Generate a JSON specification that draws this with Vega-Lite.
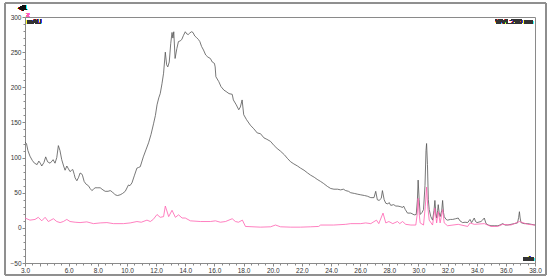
{
  "$schema": "https://vega.github.io/schema/vega-lite/v6.json",
  "width": 510,
  "height": 246,
  "autosize": "none",
  "padding": {"left": 25, "top": 17, "right": 15, "bottom": 15},
  "background": "white",
  "config": {
    "view": {"stroke": "#8a8a8a", "strokeWidth": 1},
    "font": "Liberation Sans",
    "axis": {"labelFont": "Liberation Sans", "labelFontSize": 6.5, "labelColor": "#333", "domainColor": "#8a8a8a", "tickColor": "#8a8a8a", "grid": false, "labelOverlap": false, "labelFlush": false, "title": null}
  },
  "resolve": {"axis": {"x": "independent", "y": "independent"}},
  "data": {
    "values": [
      {"t": 3.00, "v": 122, "s": "1"}, {"t": 3.10, "v": 120, "s": "1"}, {"t": 3.20, "v": 110, "s": "1"}, {"t": 3.34, "v": 102, "s": "1"}, {"t": 3.50, "v": 96, "s": "1"}, {"t": 3.65, "v": 92, "s": "1"}, {"t": 3.83, "v": 90, "s": "1"}, {"t": 3.95, "v": 95, "s": "1"}, {"t": 4.05, "v": 92, "s": "1"}, {"t": 4.15, "v": 88, "s": "1"}, {"t": 4.30, "v": 93, "s": "1"}, {"t": 4.42, "v": 101, "s": "1"}, {"t": 4.55, "v": 94, "s": "1"}, {"t": 4.72, "v": 92, "s": "1"}, {"t": 4.85, "v": 95, "s": "1"}, {"t": 4.93, "v": 97, "s": "1"}, {"t": 5.06, "v": 92, "s": "1"}, {"t": 5.18, "v": 100, "s": "1"}, {"t": 5.29, "v": 117, "s": "1"}, {"t": 5.40, "v": 110, "s": "1"}, {"t": 5.52, "v": 97, "s": "1"}, {"t": 5.65, "v": 88, "s": "1"}, {"t": 5.75, "v": 82, "s": "1"}, {"t": 5.87, "v": 88, "s": "1"}, {"t": 5.98, "v": 84, "s": "1"}, {"t": 6.09, "v": 80, "s": "1"}, {"t": 6.20, "v": 82, "s": "1"}, {"t": 6.28, "v": 83, "s": "1"}, {"t": 6.38, "v": 76, "s": "1"}, {"t": 6.44, "v": 71, "s": "1"}, {"t": 6.56, "v": 67, "s": "1"}, {"t": 6.68, "v": 72, "s": "1"}, {"t": 6.78, "v": 78, "s": "1"}, {"t": 6.88, "v": 77, "s": "1"}, {"t": 6.94, "v": 75, "s": "1"}, {"t": 7.06, "v": 66, "s": "1"}, {"t": 7.20, "v": 62, "s": "1"}, {"t": 7.35, "v": 60, "s": "1"}, {"t": 7.47, "v": 56, "s": "1"}, {"t": 7.59, "v": 53, "s": "1"}, {"t": 7.70, "v": 55, "s": "1"}, {"t": 7.81, "v": 57, "s": "1"}, {"t": 7.95, "v": 57, "s": "1"}, {"t": 8.16, "v": 57, "s": "1"}, {"t": 8.35, "v": 54, "s": "1"}, {"t": 8.50, "v": 52, "s": "1"}, {"t": 8.70, "v": 52, "s": "1"}, {"t": 8.85, "v": 53, "s": "1"}, {"t": 9.00, "v": 51, "s": "1"}, {"t": 9.19, "v": 47, "s": "1"}, {"t": 9.35, "v": 46, "s": "1"}, {"t": 9.53, "v": 47, "s": "1"}, {"t": 9.70, "v": 49, "s": "1"}, {"t": 9.88, "v": 52, "s": "1"}, {"t": 10.10, "v": 61, "s": "1"}, {"t": 10.20, "v": 60, "s": "1"}, {"t": 10.34, "v": 64, "s": "1"}, {"t": 10.50, "v": 74, "s": "1"}, {"t": 10.68, "v": 85, "s": "1"}, {"t": 10.80, "v": 86, "s": "1"}, {"t": 10.91, "v": 87, "s": "1"}, {"t": 11.12, "v": 101, "s": "1"}, {"t": 11.30, "v": 111, "s": "1"}, {"t": 11.48, "v": 121, "s": "1"}, {"t": 11.65, "v": 133, "s": "1"}, {"t": 11.82, "v": 148, "s": "1"}, {"t": 11.95, "v": 160, "s": "1"}, {"t": 12.06, "v": 175, "s": "1"}, {"t": 12.18, "v": 185, "s": "1"}, {"t": 12.28, "v": 191, "s": "1"}, {"t": 12.40, "v": 205, "s": "1"}, {"t": 12.51, "v": 220, "s": "1"}, {"t": 12.63, "v": 250, "s": "1"}, {"t": 12.72, "v": 232, "s": "1"}, {"t": 12.80, "v": 229, "s": "1"}, {"t": 12.90, "v": 236, "s": "1"}, {"t": 13.00, "v": 262, "s": "1"}, {"t": 13.09, "v": 278, "s": "1"}, {"t": 13.15, "v": 270, "s": "1"}, {"t": 13.21, "v": 279, "s": "1"}, {"t": 13.30, "v": 241, "s": "1"}, {"t": 13.42, "v": 255, "s": "1"}, {"t": 13.53, "v": 265, "s": "1"}, {"t": 13.65, "v": 266, "s": "1"}, {"t": 13.76, "v": 268, "s": "1"}, {"t": 13.88, "v": 274, "s": "1"}, {"t": 14.00, "v": 279, "s": "1"}, {"t": 14.10, "v": 276, "s": "1"}, {"t": 14.20, "v": 275, "s": "1"}, {"t": 14.30, "v": 277, "s": "1"}, {"t": 14.42, "v": 279, "s": "1"}, {"t": 14.53, "v": 278, "s": "1"}, {"t": 14.65, "v": 273, "s": "1"}, {"t": 14.76, "v": 271, "s": "1"}, {"t": 14.90, "v": 268, "s": "1"}, {"t": 15.00, "v": 265, "s": "1"}, {"t": 15.12, "v": 258, "s": "1"}, {"t": 15.25, "v": 253, "s": "1"}, {"t": 15.40, "v": 246, "s": "1"}, {"t": 15.55, "v": 243, "s": "1"}, {"t": 15.72, "v": 241, "s": "1"}, {"t": 15.85, "v": 236, "s": "1"}, {"t": 16.00, "v": 234, "s": "1"}, {"t": 16.05, "v": 229, "s": "1"}, {"t": 16.10, "v": 215, "s": "1"}, {"t": 16.30, "v": 208, "s": "1"}, {"t": 16.45, "v": 201, "s": "1"}, {"t": 16.65, "v": 196, "s": "1"}, {"t": 16.80, "v": 194, "s": "1"}, {"t": 17.00, "v": 191, "s": "1"}, {"t": 17.22, "v": 190, "s": "1"}, {"t": 17.30, "v": 182, "s": "1"}, {"t": 17.50, "v": 175, "s": "1"}, {"t": 17.67, "v": 168, "s": "1"}, {"t": 17.78, "v": 172, "s": "1"}, {"t": 17.90, "v": 182, "s": "1"}, {"t": 18.01, "v": 161, "s": "1"}, {"t": 18.20, "v": 154, "s": "1"}, {"t": 18.47, "v": 146, "s": "1"}, {"t": 18.70, "v": 141, "s": "1"}, {"t": 18.94, "v": 135, "s": "1"}, {"t": 19.16, "v": 134, "s": "1"}, {"t": 19.40, "v": 128, "s": "1"}, {"t": 19.60, "v": 126, "s": "1"}, {"t": 19.85, "v": 123, "s": "1"}, {"t": 20.10, "v": 117, "s": "1"}, {"t": 20.30, "v": 113, "s": "1"}, {"t": 20.54, "v": 109, "s": "1"}, {"t": 20.80, "v": 104, "s": "1"}, {"t": 21.00, "v": 99, "s": "1"}, {"t": 21.23, "v": 94, "s": "1"}, {"t": 21.45, "v": 91, "s": "1"}, {"t": 21.70, "v": 88, "s": "1"}, {"t": 21.91, "v": 85, "s": "1"}, {"t": 22.15, "v": 82, "s": "1"}, {"t": 22.40, "v": 78, "s": "1"}, {"t": 22.60, "v": 75, "s": "1"}, {"t": 22.85, "v": 72, "s": "1"}, {"t": 23.05, "v": 69, "s": "1"}, {"t": 23.29, "v": 66, "s": "1"}, {"t": 23.50, "v": 63, "s": "1"}, {"t": 23.75, "v": 59, "s": "1"}, {"t": 23.98, "v": 56, "s": "1"}, {"t": 24.20, "v": 55, "s": "1"}, {"t": 24.45, "v": 55, "s": "1"}, {"t": 24.66, "v": 54, "s": "1"}, {"t": 24.85, "v": 55, "s": "1"}, {"t": 25.01, "v": 53, "s": "1"}, {"t": 25.20, "v": 52, "s": "1"}, {"t": 25.35, "v": 50, "s": "1"}, {"t": 25.60, "v": 49, "s": "1"}, {"t": 25.80, "v": 48, "s": "1"}, {"t": 26.04, "v": 47, "s": "1"}, {"t": 26.30, "v": 46, "s": "1"}, {"t": 26.50, "v": 45, "s": "1"}, {"t": 26.73, "v": 43, "s": "1"}, {"t": 26.95, "v": 43, "s": "1"}, {"t": 27.07, "v": 52, "s": "1"}, {"t": 27.18, "v": 40, "s": "1"}, {"t": 27.30, "v": 39, "s": "1"}, {"t": 27.45, "v": 42, "s": "1"}, {"t": 27.53, "v": 53, "s": "1"}, {"t": 27.65, "v": 40, "s": "1"}, {"t": 27.76, "v": 35, "s": "1"}, {"t": 27.90, "v": 34, "s": "1"}, {"t": 27.99, "v": 36, "s": "1"}, {"t": 28.10, "v": 32, "s": "1"}, {"t": 28.30, "v": 33, "s": "1"}, {"t": 28.45, "v": 31, "s": "1"}, {"t": 28.60, "v": 31, "s": "1"}, {"t": 28.79, "v": 30, "s": "1"}, {"t": 28.91, "v": 29, "s": "1"}, {"t": 28.98, "v": 31, "s": "1"}, {"t": 29.10, "v": 26, "s": "1"}, {"t": 29.25, "v": 21, "s": "1"}, {"t": 29.48, "v": 21, "s": "1"}, {"t": 29.71, "v": 18.5, "s": "1"}, {"t": 29.85, "v": 19, "s": "1"}, {"t": 29.93, "v": 40, "s": "1"}, {"t": 29.98, "v": 68, "s": "1"}, {"t": 30.05, "v": 40, "s": "1"}, {"t": 30.12, "v": 19, "s": "1"}, {"t": 30.25, "v": 22, "s": "1"}, {"t": 30.35, "v": 26, "s": "1"}, {"t": 30.45, "v": 60, "s": "1"}, {"t": 30.52, "v": 110, "s": "1"}, {"t": 30.56, "v": 120, "s": "1"}, {"t": 30.62, "v": 90, "s": "1"}, {"t": 30.68, "v": 40, "s": "1"}, {"t": 30.74, "v": 26, "s": "1"}, {"t": 30.85, "v": 16, "s": "1"}, {"t": 30.97, "v": 11, "s": "1"}, {"t": 31.07, "v": 25, "s": "1"}, {"t": 31.13, "v": 39, "s": "1"}, {"t": 31.20, "v": 20, "s": "1"}, {"t": 31.25, "v": 14, "s": "1"}, {"t": 31.32, "v": 25, "s": "1"}, {"t": 31.36, "v": 33, "s": "1"}, {"t": 31.42, "v": 22, "s": "1"}, {"t": 31.49, "v": 16, "s": "1"}, {"t": 31.60, "v": 25, "s": "1"}, {"t": 31.66, "v": 39, "s": "1"}, {"t": 31.72, "v": 22, "s": "1"}, {"t": 31.77, "v": 16, "s": "1"}, {"t": 31.90, "v": 12, "s": "1"}, {"t": 32.00, "v": 11, "s": "1"}, {"t": 32.20, "v": 12, "s": "1"}, {"t": 32.35, "v": 12, "s": "1"}, {"t": 32.55, "v": 13, "s": "1"}, {"t": 32.73, "v": 14, "s": "1"}, {"t": 32.85, "v": 10, "s": "1"}, {"t": 33.03, "v": 7.5, "s": "1"}, {"t": 33.20, "v": 8, "s": "1"}, {"t": 33.38, "v": 7.5, "s": "1"}, {"t": 33.54, "v": 12, "s": "1"}, {"t": 33.65, "v": 7.5, "s": "1"}, {"t": 33.83, "v": 14, "s": "1"}, {"t": 33.92, "v": 9, "s": "1"}, {"t": 34.02, "v": 7.5, "s": "1"}, {"t": 34.29, "v": 9, "s": "1"}, {"t": 34.40, "v": 11, "s": "1"}, {"t": 34.52, "v": 14, "s": "1"}, {"t": 34.64, "v": 6, "s": "1"}, {"t": 34.80, "v": 4, "s": "1"}, {"t": 34.98, "v": 3, "s": "1"}, {"t": 35.20, "v": 3, "s": "1"}, {"t": 35.44, "v": 3, "s": "1"}, {"t": 35.60, "v": 4, "s": "1"}, {"t": 35.78, "v": 6, "s": "1"}, {"t": 35.95, "v": 4, "s": "1"}, {"t": 36.13, "v": 4, "s": "1"}, {"t": 36.35, "v": 5, "s": "1"}, {"t": 36.58, "v": 6, "s": "1"}, {"t": 36.80, "v": 7, "s": "1"}, {"t": 36.88, "v": 15, "s": "1"}, {"t": 36.93, "v": 23, "s": "1"}, {"t": 36.98, "v": 14, "s": "1"}, {"t": 37.04, "v": 7.5, "s": "1"}, {"t": 37.25, "v": 6, "s": "1"}, {"t": 37.50, "v": 6, "s": "1"}, {"t": 37.75, "v": 5, "s": "1"}, {"t": 38.00, "v": 4, "s": "1"},

      {"t": 3.00, "v": 14, "s": "2"}, {"t": 3.34, "v": 11, "s": "2"}, {"t": 3.69, "v": 12, "s": "2"}, {"t": 3.91, "v": 15, "s": "2"}, {"t": 4.15, "v": 10, "s": "2"}, {"t": 4.38, "v": 15, "s": "2"}, {"t": 4.60, "v": 9, "s": "2"}, {"t": 4.95, "v": 13, "s": "2"}, {"t": 5.18, "v": 9, "s": "2"}, {"t": 5.41, "v": 7.5, "s": "2"}, {"t": 5.63, "v": 9, "s": "2"}, {"t": 5.87, "v": 12, "s": "2"}, {"t": 6.09, "v": 9, "s": "2"}, {"t": 6.44, "v": 8, "s": "2"}, {"t": 6.78, "v": 7.5, "s": "2"}, {"t": 7.24, "v": 8.5, "s": "2"}, {"t": 7.70, "v": 6, "s": "2"}, {"t": 8.16, "v": 7, "s": "2"}, {"t": 8.62, "v": 7.5, "s": "2"}, {"t": 9.07, "v": 6, "s": "2"}, {"t": 9.76, "v": 6, "s": "2"}, {"t": 10.22, "v": 7, "s": "2"}, {"t": 10.68, "v": 9, "s": "2"}, {"t": 10.98, "v": 8, "s": "2"}, {"t": 11.37, "v": 11, "s": "2"}, {"t": 11.60, "v": 9, "s": "2"}, {"t": 11.80, "v": 12, "s": "2"}, {"t": 12.06, "v": 19, "s": "2"}, {"t": 12.28, "v": 15, "s": "2"}, {"t": 12.51, "v": 16, "s": "2"}, {"t": 12.63, "v": 31, "s": "2"}, {"t": 12.86, "v": 16, "s": "2"}, {"t": 13.09, "v": 25, "s": "2"}, {"t": 13.32, "v": 15, "s": "2"}, {"t": 13.54, "v": 18.5, "s": "2"}, {"t": 13.78, "v": 14, "s": "2"}, {"t": 14.00, "v": 14, "s": "2"}, {"t": 14.35, "v": 10, "s": "2"}, {"t": 15.04, "v": 9, "s": "2"}, {"t": 15.72, "v": 9, "s": "2"}, {"t": 16.07, "v": 10, "s": "2"}, {"t": 16.41, "v": 8, "s": "2"}, {"t": 16.76, "v": 9, "s": "2"}, {"t": 17.22, "v": 13, "s": "2"}, {"t": 17.44, "v": 9, "s": "2"}, {"t": 17.65, "v": 8, "s": "2"}, {"t": 17.92, "v": 11, "s": "2"}, {"t": 18.13, "v": 2, "s": "2"}, {"t": 19.16, "v": 1, "s": "2"}, {"t": 19.85, "v": 1.5, "s": "2"}, {"t": 20.19, "v": 4, "s": "2"}, {"t": 20.54, "v": 1.5, "s": "2"}, {"t": 21.23, "v": 1, "s": "2"}, {"t": 21.91, "v": 1, "s": "2"}, {"t": 22.60, "v": 1.5, "s": "2"}, {"t": 23.15, "v": 2, "s": "2"}, {"t": 23.29, "v": 4, "s": "2"}, {"t": 24.18, "v": 4, "s": "2"}, {"t": 25.01, "v": 5, "s": "2"}, {"t": 25.35, "v": 6, "s": "2"}, {"t": 26.04, "v": 6, "s": "2"}, {"t": 26.38, "v": 7, "s": "2"}, {"t": 26.73, "v": 6, "s": "2"}, {"t": 27.12, "v": 11, "s": "2"}, {"t": 27.28, "v": 6, "s": "2"}, {"t": 27.57, "v": 21, "s": "2"}, {"t": 27.76, "v": 7, "s": "2"}, {"t": 27.97, "v": 9, "s": "2"}, {"t": 28.24, "v": 6, "s": "2"}, {"t": 28.56, "v": 9, "s": "2"}, {"t": 28.72, "v": 6, "s": "2"}, {"t": 28.91, "v": 9, "s": "2"}, {"t": 29.13, "v": 5, "s": "2"}, {"t": 29.48, "v": 4, "s": "2"}, {"t": 29.82, "v": 4, "s": "2"}, {"t": 29.92, "v": 20, "s": "2"}, {"t": 29.98, "v": 42, "s": "2"}, {"t": 30.05, "v": 20, "s": "2"}, {"t": 30.12, "v": 7, "s": "2"}, {"t": 30.35, "v": 4, "s": "2"}, {"t": 30.47, "v": 30, "s": "2"}, {"t": 30.56, "v": 58, "s": "2"}, {"t": 30.64, "v": 30, "s": "2"}, {"t": 30.74, "v": 11, "s": "2"}, {"t": 30.97, "v": 4, "s": "2"}, {"t": 31.13, "v": 28, "s": "2"}, {"t": 31.25, "v": 7, "s": "2"}, {"t": 31.36, "v": 23, "s": "2"}, {"t": 31.49, "v": 7, "s": "2"}, {"t": 31.66, "v": 26, "s": "2"}, {"t": 31.77, "v": 7, "s": "2"}, {"t": 32.00, "v": 3, "s": "2"}, {"t": 32.73, "v": 5, "s": "2"}, {"t": 33.38, "v": 2, "s": "2"}, {"t": 33.54, "v": 7, "s": "2"}, {"t": 33.83, "v": 5, "s": "2"}, {"t": 34.52, "v": 6, "s": "2"}, {"t": 34.98, "v": 2, "s": "2"}, {"t": 35.44, "v": 2, "s": "2"}, {"t": 35.78, "v": 5, "s": "2"}, {"t": 36.35, "v": 4, "s": "2"}, {"t": 36.93, "v": 9, "s": "2"}, {"t": 37.50, "v": 5, "s": "2"}, {"t": 38.00, "v": 4, "s": "2"}
    ]
  },
  "layer": [
    {
      "mark": {"type": "line", "strokeWidth": 0.8, "interpolate": "linear"},
      "encoding": {
        "x": {
          "field": "t", "type": "quantitative",
          "scale": {"domain": [3, 38], "nice": false, "zero": false},
          "axis": {
            "values": [3, 3.5, 4, 4.5, 5, 5.5, 6, 6.5, 7, 7.5, 8, 8.5, 9, 9.5, 10, 10.5, 11, 11.5, 12, 12.5, 13, 13.5, 14, 14.5, 15, 15.5, 16, 16.5, 17, 17.5, 18, 18.5, 19, 19.5, 20, 20.5, 21, 21.5, 22, 22.5, 23, 23.5, 24, 24.5, 25, 25.5, 26, 26.5, 27, 27.5, 28, 28.5, 29, 29.5, 30, 30.5, 31, 31.5, 32, 32.5, 33, 33.5, 34, 34.5, 35, 35.5, 36, 36.5, 37, 37.5, 38],
            "labelExpr": "(datum.value == 3 || (datum.value % 2 == 0 && datum.value >= 6)) ? format(datum.value, '.1f') : ''",
            "tickSize": {"condition": {"test": "datum.value % 2 == 0 || datum.value == 3", "value": 3}, "value": 2},
            "labelPadding": 1
          }
        },
        "y": {
          "field": "v", "type": "quantitative",
          "scale": {"domain": [-50, 300], "nice": false, "zero": false},
          "axis": {
            "values": [-50, -40, -30, -20, -10, 0, 10, 20, 30, 40, 50, 60, 70, 80, 90, 100, 110, 120, 130, 140, 150, 160, 170, 180, 190, 200, 210, 220, 230, 240, 250, 260, 270, 280, 290, 300],
            "labelExpr": "datum.value % 50 == 0 ? format(datum.value, 'd') : ''",
            "tickSize": {"condition": {"test": "datum.value % 50 == 0", "value": 3}, "value": 2},
            "labelPadding": 1
          }
        },
        "color": {"field": "s", "type": "nominal", "scale": {"domain": ["1", "2"], "range": ["#555555", "#ff5fb0"]}, "legend": null},
        "order": {"field": "t", "type": "quantitative"}
      }
    },
    {
      "mark": {"type": "rect", "filled": false, "stroke": "#8f8f8f", "strokeWidth": 1, "clip": false},
      "encoding": {
        "x": {"datum": 1.63, "axis": null},
        "x2": {"datum": 38.75},
        "y": {"datum": 319.5, "axis": null},
        "y2": {"datum": -67}
      }
    },
    {
      "mark": {"type": "text", "text": "mAU", "align": "left", "baseline": "top", "dx": 2, "dy": 2, "fontSize": 6.5, "color": "#333"},
      "encoding": {"x": {"datum": 3, "axis": null}, "y": {"datum": 300, "axis": null}}
    },
    {
      "mark": {"type": "text", "text": "WVL:280 nm", "align": "right", "baseline": "top", "dx": -2, "dy": 2, "fontSize": 6.5, "color": "#333"},
      "encoding": {"x": {"datum": 38, "axis": null}, "y": {"datum": 300, "axis": null}}
    },
    {
      "mark": {"type": "text", "text": "min", "align": "right", "baseline": "bottom", "dx": -1, "dy": -1, "fontSize": 6.5, "color": "#333"},
      "encoding": {"x": {"datum": 38, "axis": null}, "y": {"datum": -50, "axis": null}}
    },
    {
      "mark": {"type": "text", "text": "◀1", "align": "right", "baseline": "middle", "dx": 2, "dy": -9, "fontSize": 7, "color": "#111"},
      "encoding": {"x": {"datum": 3, "axis": null}, "y": {"datum": 300, "axis": null}}
    },
    {
      "mark": {"type": "text", "text": "2", "align": "left", "baseline": "middle", "dx": 1, "dy": -2, "fontSize": 6, "color": "#ff5fb0"},
      "encoding": {"x": {"datum": 3, "axis": null}, "y": {"datum": 300, "axis": null}}
    }
  ]
}
